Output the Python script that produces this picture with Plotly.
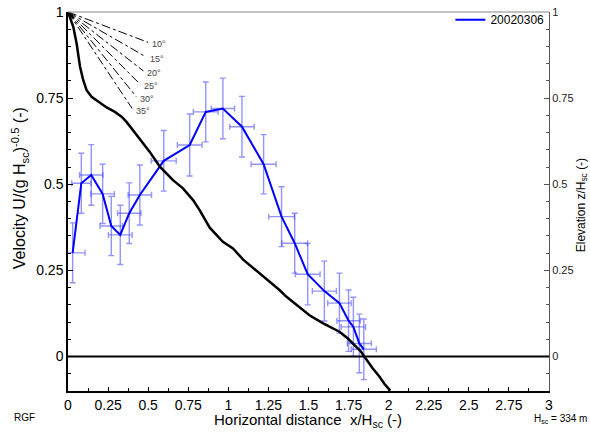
import numpy as np
import plotly.graph_objects as go

# Slope profile (elevation z/Hsc vs x/Hsc)
prof_x = [0, 0.033, 0.054, 0.064, 0.075, 0.095, 0.116, 0.147, 0.189, 0.241, 0.292, 0.334, 0.365,
          0.396, 0.448, 0.510, 0.573, 0.655, 0.717, 0.780, 0.821, 0.884, 0.966, 1.029, 1.091,
          1.207, 1.319, 1.361, 1.402, 1.506, 1.589, 1.693, 1.744, 1.786, 1.828, 1.848, 1.869,
          1.900, 1.942, 1.973, 2.010]
prof_z = [1.000, 0.957, 0.908, 0.870, 0.841, 0.802, 0.773, 0.754, 0.739, 0.723, 0.710, 0.696,
          0.681, 0.662, 0.633, 0.594, 0.551, 0.512, 0.488, 0.454, 0.425, 0.374, 0.333, 0.314,
          0.282, 0.237, 0.193, 0.174, 0.159, 0.120, 0.097, 0.072, 0.053, 0.034, 0.014, 0.000,
          -0.014, -0.034, -0.058, -0.079, -0.099]

# Velocity series 20020306
vel_x = [0.029, 0.083, 0.145, 0.216, 0.270, 0.326, 0.382, 0.448, 0.597, 0.759, 0.859, 0.966,
         1.085, 1.220, 1.332, 1.414, 1.495, 1.599, 1.693, 1.750, 1.780, 1.817, 1.845]
vel_u = [0.301, 0.503, 0.527, 0.472, 0.379, 0.353, 0.416, 0.469, 0.568, 0.614, 0.710, 0.720,
         0.667, 0.558, 0.406, 0.329, 0.239, 0.190, 0.155, 0.104, 0.086, 0.038, 0.021]
err_x = [0.077, 0.060, 0.073, 0.073, 0.070, 0.074, 0.073, 0.073, 0.078, 0.077, 0.077, 0.073,
         0.076, 0.078, 0.080, 0.080, 0.077, 0.075, 0.073, 0.073, 0.076, 0.075, 0.078]
err_u = [0.087, 0.087, 0.088, 0.086, 0.086, 0.086, 0.088, 0.087, 0.088, 0.090, 0.087, 0.088,
         0.088, 0.086, 0.087, 0.087, 0.089, 0.087, 0.087, 0.089, 0.086, 0.085, 0.088]

# Reference angle lines from the summit
ang_deg = [10, 15, 20, 25, 30, 35]
ang_end_x = [0.50, 0.485, 0.47, 0.45, 0.425, 0.40]

y_ticks = [0, 0.25, 0.5, 0.75, 1]
y_ticktext = ["0", "0.25", "0.5", "0.75", "1"]
x_ticks = [0, 0.25, 0.5, 0.75, 1, 1.25, 1.5, 1.75, 2, 2.25, 2.5, 2.75, 3]
x_ticktext = ["0", "0.25", "0.5", "0.75", "1", "1.25", "1.5", "1.75", "2", "2.25", "2.5", "2.75", "3"]

FONT = "Liberation Sans, Arial, sans-serif"

fig = go.Figure()

# blue velocity line with error bars
fig.add_trace(go.Scatter(
    x=vel_x, y=vel_u, mode="lines", name="20020306",
    line=dict(color="#0000ff", width=2),
    error_y=dict(type="data", array=err_u, color="rgba(60,60,255,0.55)", thickness=1.4, width=3),
    error_x=dict(type="data", array=err_x, color="rgba(60,60,255,0.55)", thickness=1.4, width=3),
    yaxis="y",
))

# angle lines
lx, ly = [], []
for a, ex in zip(ang_deg, ang_end_x):
    lx += [0, ex, None]
    ly += [1, 1 - ex * np.tan(np.radians(a)), None]
fig.add_trace(go.Scatter(x=lx, y=ly, mode="lines", showlegend=False,
                         line=dict(color="black", width=1, dash="dashdot"), yaxis="y2",
                         hoverinfo="skip"))
end_y = [1 - ex * np.tan(np.radians(a)) for a, ex in zip(ang_deg, ang_end_x)]
annots = []
for a, ex, ey in zip(ang_deg, ang_end_x, end_y):
    annots.append(dict(text=f"{a}°", x=ex, y=ey, xref="x", yref="y2", xanchor="left",
                       yanchor="middle", xshift=2, yshift=-2, showarrow=False,
                       font=dict(size=9, color="#444")))

# slope profile
fig.add_trace(go.Scatter(x=prof_x, y=prof_z, mode="lines", showlegend=False,
                         line=dict(color="black", width=2.5), yaxis="y2"))

fig.update_layout(
    width=590, height=434,
    margin=dict(l=68, r=41, t=12, b=43, autoexpand=False),
    paper_bgcolor="white", plot_bgcolor="white",
    font=dict(family=FONT, color="black"),
    showlegend=True,
    legend=dict(x=0.795, y=1.018, xanchor="left", yanchor="top", bgcolor="rgba(0,0,0,0)",
                font=dict(size=12, family=FONT), borderwidth=0),
    xaxis=dict(range=[0, 3], tickvals=x_ticks, ticktext=x_ticktext, ticks="inside", ticklen=4,
               tickcolor="black", showline=True, linecolor="black", linewidth=1.5,
               showgrid=False, zeroline=False, tickfont=dict(size=14), automargin=False,
               ticklabeloverflow="allow",
               minor=dict(dtick=0.125, tick0=0, ticks="inside", ticklen=3, tickcolor="black")),
    yaxis=dict(range=[-0.1, 1], tickvals=y_ticks, ticktext=y_ticktext, ticks="inside", ticklen=5,
               tickcolor="black", showline=True, linecolor="black", linewidth=1.5,
               showgrid=False, zeroline=False, tickfont=dict(size=14), automargin=False,
               ticklabeloverflow="allow",
               minor=dict(dtick=0.05, tick0=0, ticks="inside", ticklen=3, tickcolor="black")),
    yaxis2=dict(range=[-0.1, 1], overlaying="y", side="right", tickvals=y_ticks,
                ticktext=y_ticktext, ticks="inside", ticklen=5, tickcolor="#555",
                showline=True, linecolor="#555", linewidth=1, showgrid=False, zeroline=False,
                tickfont=dict(size=11, color="#222"), automargin=False,
                ticklabeloverflow="allow",
                minor=dict(dtick=0.05, tick0=0, ticks="inside", ticklen=3, tickcolor="#555")),
    shapes=[
        dict(type="line", xref="paper", yref="paper", x0=0, x1=1, y0=1, y1=1,
             line=dict(color="#888", width=1)),
        dict(type="line", xref="paper", yref="y", x0=0, x1=1, y0=0, y1=0,
             line=dict(color="black", width=2)),
    ],
    annotations=annots + [
        dict(text="Velocity U/(g H<sub>sc</sub>)<sup>-0.5</sup> (-)", textangle=-90,
             xref="paper", yref="paper", x=-0.0998, y=0.535, xanchor="center", yanchor="middle",
             showarrow=False, font=dict(size=16)),
        dict(text="Elevation z/H<sub>sc</sub> (-)", textangle=-90,
             xref="paper", yref="paper", x=1.0686, y=0.49, xanchor="center", yanchor="middle",
             showarrow=False, font=dict(size=12)),
        dict(text="Horizontal distance  x/H<sub>sc</sub> (-)",
             xref="paper", yref="paper", x=0.499, y=-0.079, xanchor="center", yanchor="middle",
             showarrow=False, font=dict(size=15)),
        dict(text="RGF", xref="paper", yref="paper", x=-0.0904, y=-0.0712,
             xanchor="center", yanchor="middle", showarrow=False, font=dict(size=10)),
        dict(text="H<sub>sc</sub> = 334 m", xref="paper", yref="paper", x=1.023, y=-0.075,
             xanchor="center", yanchor="middle", showarrow=False, font=dict(size=10)),
    ],
)

fig.write_html("out.html", config={"displayModeBar": False},
               post_script="document.body.style.margin='0px';document.body.style.overflow='hidden';")
